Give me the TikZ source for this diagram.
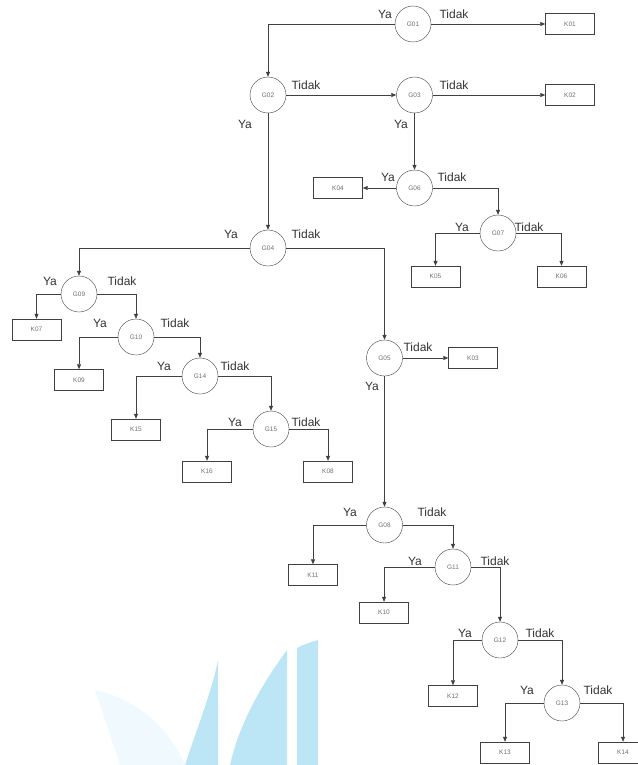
\documentclass[tikz,border=0pt]{standalone}
\usepackage{fontspec}
\setmainfont{Liberation Sans}
\usetikzlibrary{arrows.meta}

\definecolor{garis}{HTML}{404040}
\definecolor{isi}{HTML}{707070}
\definecolor{logo}{HTML}{BCE6F6}
\definecolor{logotipis}{HTML}{F0F9FD}

\begin{document}
\begin{tikzpicture}[
  x=1pt, y=-1pt,
  gejala/.style={draw=garis, circle, minimum size=36pt, inner sep=0pt, font=\fontsize{6.5}{7}\selectfont, text=isi},
  kerusakan/.style={draw=garis, rectangle, minimum width=49pt, minimum height=21pt, inner sep=0pt, font=\fontsize{6.5}{7}\selectfont, text=isi},
  jawab/.style={anchor=base, inner sep=0pt, font=\fontsize{12}{14}\selectfont, text=black!80},
  edge/.style={-{Triangle[length=5pt,width=4pt]}, draw=garis, line width=0.7pt}
]
\useasboundingbox (0,0) rectangle (637,765);

% Watermark (bottom left)
\fill[logotipis] (95,690) .. controls (140,700) and (170,730) .. (185,765) -- (120,765) -- cycle;
\fill[logo] (185,765) .. controls (200,720) and (212,690) .. (218,660) -- (218,765) -- cycle;
\fill[logo] (230,765) .. controls (240,720) and (265,680) .. (287,650) -- (287,765) -- cycle;
\fill[logo] (297,765) -- (297,648) .. controls (305,644) .. (318,640) -- (318,765) -- cycle;

% Gejala (circles)
\node[gejala] (g01) at (413,24) {G01};
\node[gejala] (g02) at (268,95) {G02};
\node[gejala] (g03) at (414.5,95) {G03};
\node[gejala] (g06) at (414.5,188) {G06};
\node[gejala] (g07) at (498,233) {G07};
\node[gejala] (g04) at (268,248) {G04};
\node[gejala] (g09) at (79,294) {G09};
\node[gejala] (g10) at (136,337) {G10};
\node[gejala] (g14) at (200,376) {G14};
\node[gejala] (g15) at (271,429) {G15};
\node[gejala] (g05) at (384.5,358) {G05};
\node[gejala] (g08) at (384.5,525) {G08};
\node[gejala] (g11) at (453,567) {G11};
\node[gejala] (g12) at (500,640) {G12};
\node[gejala] (g13) at (562,703) {G13};

% Kerusakan (boxes)
\node[kerusakan] (k01) at (570,24) {K01};
\node[kerusakan] (k02) at (570,95) {K02};
\node[kerusakan] (k04) at (338,188) {K04};
\node[kerusakan] (k05) at (435.5,276.5) {K05};
\node[kerusakan] (k06) at (561.5,276.5) {K06};
\node[kerusakan] (k07) at (36.5,329.5) {K07};
\node[kerusakan] (k09) at (79,380) {K09};
\node[kerusakan] (k15) at (136,429.5) {K15};
\node[kerusakan] (k16) at (207,471.5) {K16};
\node[kerusakan] (k08) at (328,471.5) {K08};
\node[kerusakan] (k03) at (473,358) {K03};
\node[kerusakan] (k11) at (313,575) {K11};
\node[kerusakan] (k10) at (384,612.5) {K10};
\node[kerusakan] (k12) at (453,696) {K12};
\node[kerusakan] (k13) at (505,752.5) {K13};
\node[kerusakan] (k14) at (623,752.5) {K14};

% Answer labels
\node[jawab] (ya01) at (385,18.5) {Ya};
\node[jawab] (td01) at (454,18.5) {Tidak};
\node[jawab] (td02) at (306,89.5) {Tidak};
\node[jawab] (ya02) at (245,128.5) {Ya};
\node[jawab] (td03) at (454,89.5) {Tidak};
\node[jawab] (ya03) at (401,128.5) {Ya};
\node[jawab] (ya06) at (388,181.5) {Ya};
\node[jawab] (td06) at (452,181.5) {Tidak};
\node[jawab] (ya07) at (462,231.5) {Ya};
\node[jawab] (td07) at (529,231.5) {Tidak};
\node[jawab] (ya04) at (231,238.5) {Ya};
\node[jawab] (td04) at (306,238.5) {Tidak};
\node[jawab] (ya09) at (50,285.5) {Ya};
\node[jawab] (td09) at (122,285.5) {Tidak};
\node[jawab] (ya10) at (100,327.5) {Ya};
\node[jawab] (td10) at (175,327.5) {Tidak};
\node[jawab] (ya14) at (164,370.5) {Ya};
\node[jawab] (td14) at (235,370.5) {Tidak};
\node[jawab] (ya15) at (235,426.5) {Ya};
\node[jawab] (td15) at (306,426.5) {Tidak};
\node[jawab] (td05) at (418,351.5) {Tidak};
\node[jawab] (ya05) at (372,390.5) {Ya};
\node[jawab] (ya08) at (350,516.5) {Ya};
\node[jawab] (td08) at (432,516.5) {Tidak};
\node[jawab] (ya11) at (415,565.5) {Ya};
\node[jawab] (td11) at (495,565.5) {Tidak};
\node[jawab] (ya12) at (465,637.5) {Ya};
\node[jawab] (td12) at (540,637.5) {Tidak};
\node[jawab] (ya13) at (527,694.5) {Ya};
\node[jawab] (td13) at (598,694.5) {Tidak};

% Connectors
\draw[edge] (g01) -| (g02);
\draw[edge] (g01) -- (k01);
\draw[edge] (g02) -- (g03);
\draw[edge] (g02) -- (g04);
\draw[edge] (g03) -- (k02);
\draw[edge] (g03) -- (g06);
\draw[edge] (g06) -- (k04);
\draw[edge] (g06) -| (g07);
\draw[edge] (g07) -| (k05);
\draw[edge] (g07) -| (k06);
\draw[edge] (g04) -| (g09);
\draw[edge] (g04) -| (g05);
\draw[edge] (g09) -| (k07);
\draw[edge] (g09) -| (g10);
\draw[edge] (g10) -| (k09);
\draw[edge] (g10) -| (g14);
\draw[edge] (g14) -| (k15);
\draw[edge] (g14) -| (g15);
\draw[edge] (g15) -| (k16);
\draw[edge] (g15) -| (k08);
\draw[edge] (g05) -- (k03);
\draw[edge] (g05) -- (g08);
\draw[edge] (g08) -| (k11);
\draw[edge] (g08) -| (g11);
\draw[edge] (g11) -| (k10);
\draw[edge] (g11) -| (g12);
\draw[edge] (g12) -| (k12);
\draw[edge] (g12) -| (g13);
\draw[edge] (g13) -| (k13);
\draw[edge] (g13) -| (k14);

\end{tikzpicture}
\end{document}
